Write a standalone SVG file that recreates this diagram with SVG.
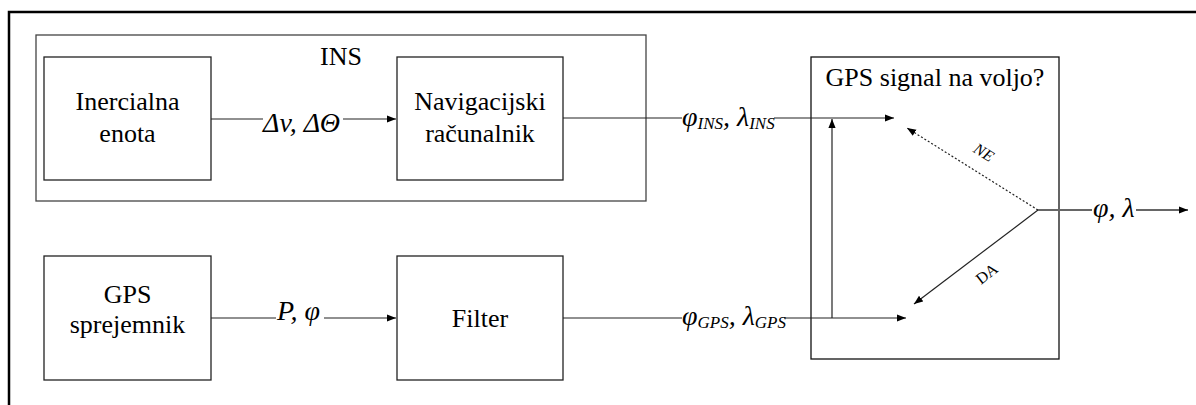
<svg xmlns="http://www.w3.org/2000/svg" width="1196" height="405" viewBox="0 0 1196 405">
<style>
.box{fill:#fff;stroke:#222;stroke-width:1.3}
.t{font-family:'Liberation Serif','DejaVu Serif',serif;font-size:26px;fill:#000;text-anchor:middle}
.lab{font-family:'Liberation Serif','DejaVu Serif',serif;font-size:28px;font-style:italic;fill:#000}
.sub{font-size:17px}
.ln{stroke:#222;stroke-width:1.2;fill:none}
.bg{fill:#fff}
</style>
<defs>
<marker id="ah" viewBox="0 0 10 10" refX="10" refY="5" markerWidth="9" markerHeight="9" markerUnits="userSpaceOnUse" orient="auto">
<path d="M0,1 L10,5 L0,9 Z" fill="#000"/>
</marker>
</defs>
<rect width="1196" height="405" fill="#fff"/>
<path d="M9,405 V12 H1196" fill="none" stroke="#000" stroke-width="2.5"/>

<g id="ins">
<rect class="box" x="36" y="35" width="610" height="166" style="stroke:#444"/>
<text class="t" x="341" y="65">INS</text>
</g>
<g id="inercialna">
<rect class="box" x="44" y="57" width="167" height="123"/>
<text class="t" x="127.5" y="110">Inercialna</text>
<text class="t" x="127.5" y="142">enota</text>
</g>
<g id="navigacijski">
<rect class="box" x="397" y="57" width="166" height="123"/>
<text class="t" x="480" y="110">Navigacijski</text>
<text class="t" x="480" y="142">računalnik</text>
</g>
<g id="gps">
<rect class="box" x="44" y="256" width="167" height="124"/>
<text class="t" x="127.5" y="303">GPS</text>
<text class="t" x="127.5" y="333">sprejemnik</text>
</g>
<g id="filter">
<rect class="box" x="397" y="256" width="166" height="124"/>
<text class="t" x="480" y="327">Filter</text>
</g>
<g id="switch">
<rect class="box" x="811" y="57" width="248" height="302" style="stroke:#111"/>
<text class="t" x="935" y="86">GPS signal na voljo?</text>
</g>

<g id="connectors">
<line class="ln" x1="211" y1="119" x2="396" y2="119" marker-end="url(#ah)"/>
<line class="ln" x1="563" y1="118" x2="894" y2="118" marker-end="url(#ah)"/>
<line class="ln" x1="211" y1="318" x2="396" y2="318" marker-end="url(#ah)"/>
<line class="ln" x1="563" y1="318" x2="906" y2="318" marker-end="url(#ah)"/>
<line class="ln" x1="832" y1="318" x2="832" y2="119" marker-end="url(#ah)"/>
<line class="ln" x1="1038" y1="210" x2="907" y2="128" stroke-dasharray="2,2" stroke-width="1" marker-end="url(#ah)"/>
<line class="ln" x1="1038" y1="210" x2="914" y2="304" stroke-width="1" marker-end="url(#ah)"/>
<line class="ln" x1="1038" y1="210" x2="1188" y2="210" style="stroke:#666;stroke-width:1.8" marker-end="url(#ah)"/>

<rect class="bg" x="263" y="109" width="80" height="20"/>
<text class="lab" x="263" y="132">Δv, ΔΘ</text>

<rect class="bg" x="682" y="107" width="92" height="23"/>
<text class="lab" x="682" y="126">φ<tspan class="sub" dy="3">INS</tspan><tspan dy="-3">, λ</tspan><tspan class="sub" dy="3">INS</tspan></text>

<rect class="bg" x="276" y="307" width="48" height="17"/>
<text class="lab" x="277" y="320">P, φ</text>

<rect class="bg" x="682" y="308" width="102" height="21"/>
<text class="lab" x="682" y="325">φ<tspan class="sub" dy="3">GPS</tspan><tspan dy="-3">, λ</tspan><tspan class="sub" dy="3">GPS</tspan></text>

<rect class="bg" x="1092" y="199" width="44" height="21"/>
<text class="lab" x="1093" y="217">φ, λ</text>

<text class="t" style="font-size:16px;font-style:italic" transform="translate(981,157) rotate(32)">NE</text>
<text class="t" style="font-size:16px" transform="translate(990,278) rotate(-38)">DA</text>
</g>
</svg>
